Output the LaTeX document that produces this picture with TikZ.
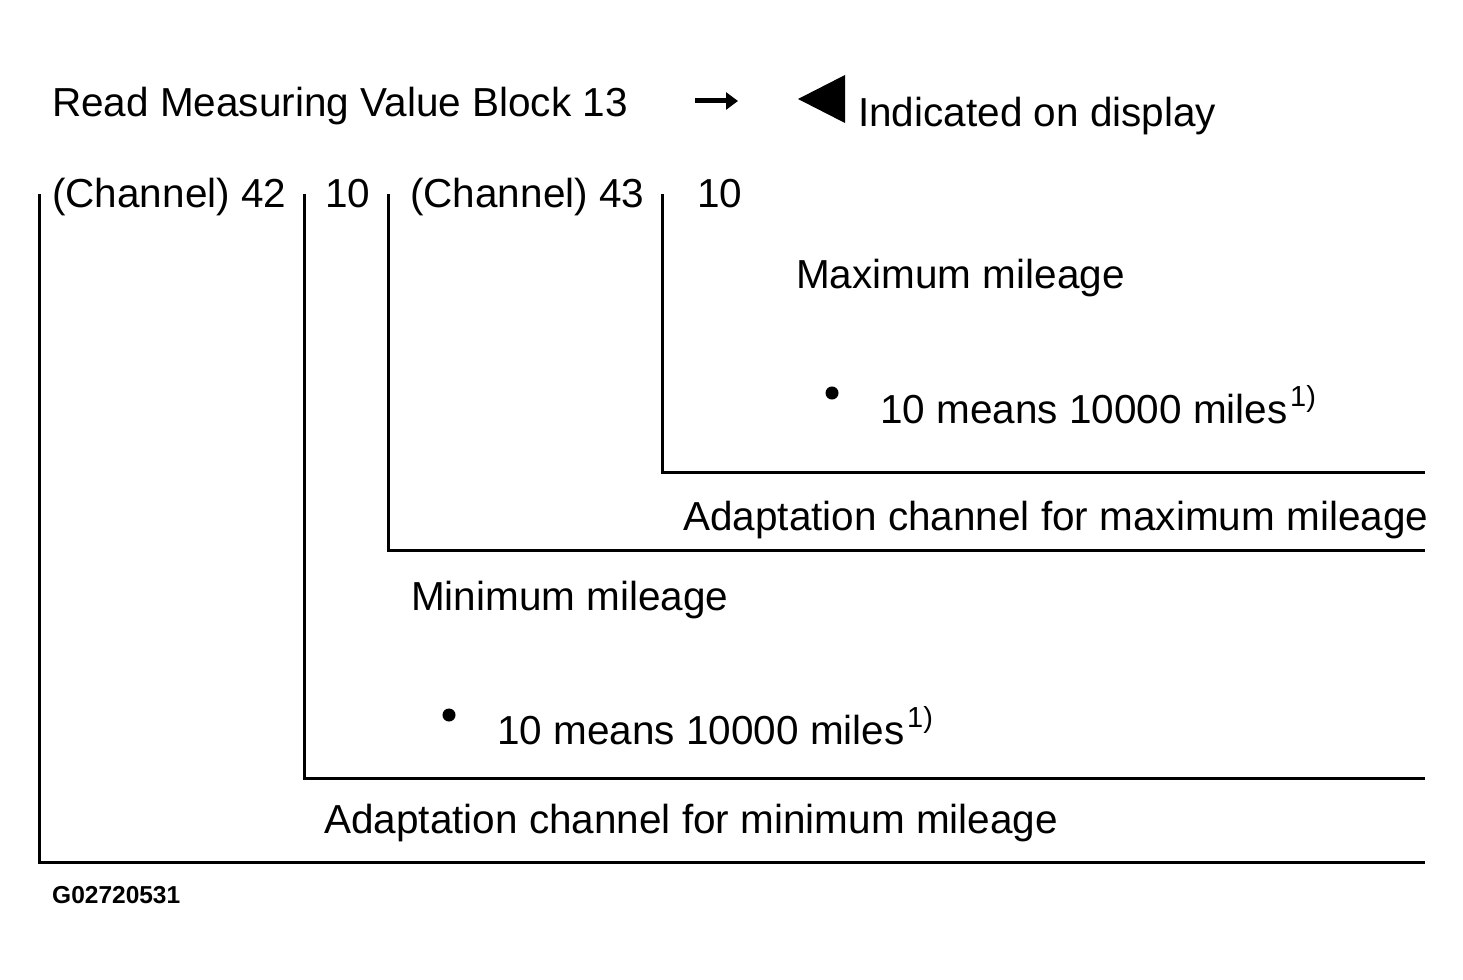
\documentclass[tikz,border=0pt]{standalone}
\usepackage{fontspec}
\setmainfont{Liberation Sans}
\usetikzlibrary{arrows.meta}
\begin{document}
\begin{tikzpicture}[x=1pt,y=-1pt,
  txt/.style={anchor=base west,inner sep=0pt,font=\fontsize{40.5}{44}\selectfont},
  sup/.style={anchor=base west,inner sep=0pt,font=\fontsize{29}{31}\selectfont},
  code/.style={anchor=base west,inner sep=0pt,font=\bfseries\fontsize{24.5}{26}\selectfont},
  bracket/.style={line width=3pt,line cap=butt},
  dotmark/.style={circle,fill=black,draw=black,line width=1pt,inner sep=0pt,minimum size=12pt}]
\useasboundingbox (0,0) rectangle (1463,979);
% header
\node[txt] (title) at (52,117) {Read Measuring Value Block 13};
\coordinate (arA) at (695,101);
\coordinate (arB) at (738,101);
\draw[line width=5pt,-{Triangle[length=12pt,width=17pt]}] (arA) -- (arB);
\coordinate (t1) at (798,99);
\coordinate (t2) at (845,75);
\coordinate (t3) at (845,123);
\fill (t1) -- (t2) -- (t3) -- cycle;
\node[txt] (disp) at (858,127) {Indicated on display};
% channel row
\node[txt] (c42) at (52,207) {(Channel) 42};
\node[txt] (v42) at (325,207) {10};
\node[txt] (c43) at (410,207) {(Channel) 43};
\node[txt] (v43) at (697,207) {10};
% descriptions
\node[txt] (maxm) at (796,288) {Maximum mileage};
\node[dotmark] (b1) at (832,393) {};
\node[txt] (mean1) at (880,423) {10 means 10000 miles};
\node[sup] (s1) at (1290,406) {1)};
\node[txt] (adMax) at (683,530) {Adaptation channel for maximum mileage};
\node[txt] (minm) at (411,610) {Minimum mileage};
\node[dotmark] (b2) at (449,715) {};
\node[txt] (mean2) at (497,744) {10 means 10000 miles};
\node[sup] (s2) at (907,727) {1)};
\node[txt] (adMin) at (324,833) {Adaptation channel for minimum mileage};
\node[code] (gid) at (52,903) {G02720531};
% brackets
\coordinate (L1t) at (39,194); \coordinate (L1b) at (39,862); \coordinate (L1e) at (1425,862);
\coordinate (L2t) at (304,194); \coordinate (L2b) at (304,778); \coordinate (L2e) at (1425,778);
\coordinate (L3t) at (388,194); \coordinate (L3b) at (388,550); \coordinate (L3e) at (1425,550);
\coordinate (L4t) at (662,194); \coordinate (L4b) at (662,472); \coordinate (L4e) at (1425,472);
\draw[bracket] (L1t) -- (L1b) -- (L1e);
\draw[bracket] (L2t) -- (L2b) -- (L2e);
\draw[bracket] (L3t) -- (L3b) -- (L3e);
\draw[bracket] (L4t) -- (L4b) -- (L4e);
\end{tikzpicture}
\end{document}
